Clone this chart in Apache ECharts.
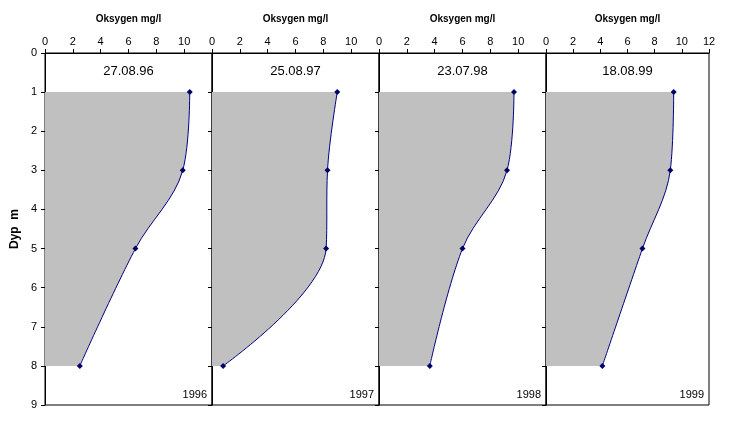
<!DOCTYPE html>
<html>
<head>
<meta charset="utf-8">
<script src="https://cdn.jsdelivr.net/npm/echarts@6/dist/echarts.min.js"></script>
<style>html,body{margin:0;padding:0;background:#fff}#c{width:753px;height:440px}</style>
</head>
<body>
<div id="c"></div>
<script>
// ---- data ----
const depthCategories = ['0','1','2','3','4','5','6','7','8','9'];
const depths = [1, 3, 5, 8];
const dates = ['27.08.96', '25.08.97', '23.07.98', '18.08.99'];
const years = ['1996', '1997', '1998', '1999'];
const oxygen1996 = [10.4, 9.9, 6.5, 2.5];
const oxygen1997 = [9.0, 8.3, 8.2, 0.8];
const oxygen1998 = [9.7, 9.2, 6.0, 3.65];
const oxygen1999 = [9.4, 9.15, 7.1, 4.15];
const xTicks = [0, 2, 4, 6, 8, 10, 12];
const xAxisTitle = 'Oksygen mg/l';
const yAxisTitle = 'Dyp  m';

const seriesValues = [oxygen1996, oxygen1997, oxygen1998, oxygen1999];

// ---- layout ----
const gridLefts = [45, 212, 379, 546];
const gridWidths = [167, 167, 167, 163];
const gridTop = 53, gridHeight = 352;
const font = 'Liberation Sans, Arial, sans-serif';

const grids = [], xAxes = [], yAxes = [], seriesList = [], texts = [];
for (let i = 0; i < 4; i++) {
  grids.push({ left: gridLefts[i], top: gridTop, width: gridWidths[i], height: gridHeight,
    show: true, borderColor: '#000', borderWidth: 1, backgroundColor: 'transparent' });
  const last = i === 3;
  xAxes.push({
    gridIndex: i, type: 'value', position: 'top', min: xTicks[0], max: xTicks[xTicks.length - 1], interval: 2,
    name: xAxisTitle, nameLocation: 'middle', nameGap: 29,
    nameTextStyle: { fontFamily: font, fontSize: 10, fontWeight: 'bold', color: '#000' },
    axisLine: { show: true, lineStyle: { color: '#000', width: 1 } },
    axisTick: { show: true, inside: false, length: 4, lineStyle: { color: '#000' } },
    axisLabel: { show: true, color: '#000', fontFamily: font, fontSize: 11, margin: 6,
      formatter: v => (!last && v === 12) ? '' : String(v) },
    splitLine: { show: false }
  });
  yAxes.push({
    gridIndex: i, type: 'category', data: depthCategories, inverse: true, boundaryGap: false,
    name: i === 0 ? yAxisTitle : '', nameLocation: 'middle', nameGap: 24, nameRotate: 90,
    nameTextStyle: { fontFamily: font, fontSize: 12, fontWeight: 'bold', color: '#000' },
    axisLine: { show: true, lineStyle: { color: '#000', width: 1 } },
    axisTick: { show: true, inside: false, length: 4, alignWithLabel: true, lineStyle: { color: '#000' } },
    axisLabel: { show: i === 0, color: '#000', fontFamily: font, fontSize: 11, margin: 8, interval: 0 },
    splitLine: { show: false }
  });
  seriesList.push({
    type: 'line', xAxisIndex: i, yAxisIndex: i,
    data: depths.map((d, k) => [seriesValues[i][k], d]),
    smooth: 0.35,
    symbol: 'diamond', symbolSize: 6,
    itemStyle: { color: '#000066' },
    lineStyle: { color: '#000080', width: 1 },
    areaStyle: { color: '#c0c0c0', opacity: 1 },
    animation: false
  });
  texts.push({ type: 'text', x: gridLefts[i] + gridWidths[i] / 2, y: 71,
    style: { text: dates[i], align: 'center', verticalAlign: 'middle', fill: '#000', font: '13px ' + font } });
  texts.push({ type: 'text', x: gridLefts[i] + gridWidths[i] - 5, y: 395,
    style: { text: years[i], align: 'right', verticalAlign: 'middle', fill: '#000', font: '11px ' + font } });
}

const chart = echarts.init(document.getElementById('c'));
chart.setOption({
  animation: false,
  backgroundColor: '#fff',
  grid: grids,
  xAxis: xAxes,
  yAxis: yAxes,
  series: seriesList,
  graphic: texts
});
</script>
</body>
</html>
